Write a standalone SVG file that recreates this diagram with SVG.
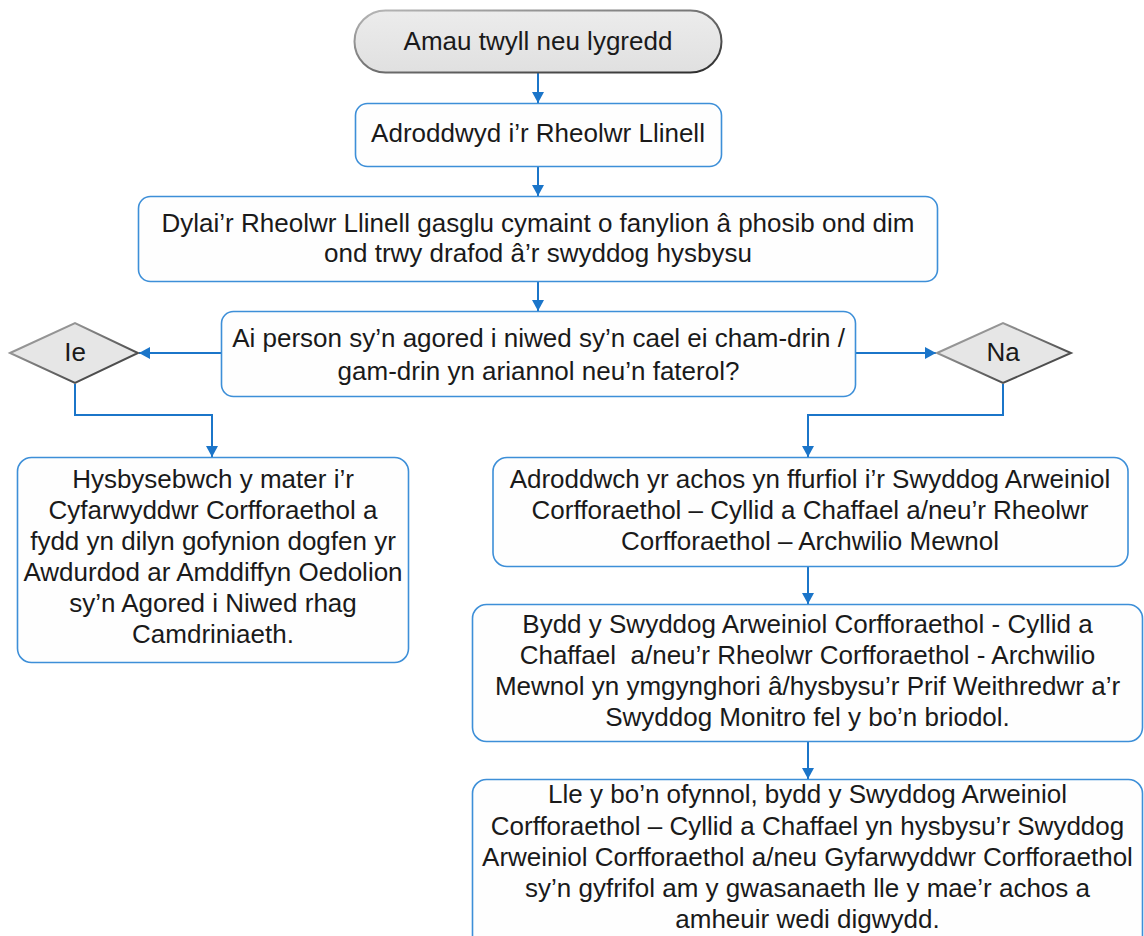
<svg xmlns="http://www.w3.org/2000/svg" width="1144" height="936" viewBox="0 0 1144 936">
  <style>
    .box { fill:#fefefe; stroke:#3d8fd8; stroke-width:1.6; }
    .conn { fill:none; stroke:#1b75c9; stroke-width:2; }
    .t { font-family:"Liberation Sans", Arial, sans-serif; font-size:26px; fill:#1a1a1a; text-anchor:middle; }
    .gray { fill:#e6e6e6; stroke:url(#grayStroke); stroke-width:2; }
  </style>
  <defs>
    <linearGradient id="grayStroke" x1="0" y1="0" x2="1" y2="1">
      <stop offset="0" stop-color="#b8b8b8"/>
      <stop offset="1" stop-color="#2a2a2a"/>
    </linearGradient>
    <linearGradient id="termFill" x1="0" y1="0" x2="0" y2="1">
      <stop offset="0" stop-color="#ececec"/>
      <stop offset="1" stop-color="#e0e0e0"/>
    </linearGradient>
    <marker id="arrow" markerUnits="userSpaceOnUse" markerWidth="12" markerHeight="12" refX="11" refY="6" orient="auto">
      <path d="M0,0 L11,6 L0,12 z" fill="#1b75c9"/>
    </marker>
  </defs>

  <g id="connectors">
    <path class="conn" d="M538,73 V103" marker-end="url(#arrow)"/>
    <path class="conn" d="M538,167 V196" marker-end="url(#arrow)"/>
    <path class="conn" d="M538,282 V311" marker-end="url(#arrow)"/>
    <path class="conn" d="M221,353 H139" marker-end="url(#arrow)"/>
    <path class="conn" d="M856,353 H936" marker-end="url(#arrow)"/>
    <path class="conn" d="M75,384 V415 H212 V457" marker-end="url(#arrow)"/>
    <path class="conn" d="M1003,384 V415 H808 V457" marker-end="url(#arrow)"/>
    <path class="conn" d="M808,567 V604" marker-end="url(#arrow)"/>
    <path class="conn" d="M808,742 V779" marker-end="url(#arrow)"/>
  </g>

  <g id="start">
    <rect x="354.5" y="10.5" width="367" height="62" rx="31" ry="31" fill="url(#termFill)" stroke="url(#grayStroke)" stroke-width="2"/>
    <text class="t" x="538" y="50">Amau twyll neu lygredd</text>
  </g>

  <g id="report-line-manager">
    <rect class="box" x="355.5" y="103.5" width="366" height="63" rx="12"/>
    <text class="t" x="538" y="142">Adroddwyd i’r Rheolwr Llinell</text>
  </g>

  <g id="gather-details">
    <rect class="box" x="138.5" y="196.5" width="799" height="85" rx="12"/>
    <text class="t" x="538" y="232">Dylai’r Rheolwr Llinell gasglu cymaint o fanylion â phosib ond dim</text>
    <text class="t" x="538" y="262">ond trwy drafod â’r swyddog hysbysu</text>
  </g>

  <g id="question">
    <rect class="box" x="221.5" y="311.5" width="634" height="85" rx="12"/>
    <text class="t" x="538.5" y="347">Ai person sy’n agored i niwed sy’n cael ei cham-drin /</text>
    <text class="t" x="538.5" y="380">gam-drin yn ariannol neu’n faterol?</text>
  </g>

  <g id="yes">
    <polygon class="gray" points="10,353 75,323 138,353 75,383"/>
    <text class="t" x="75" y="361">Ie</text>
  </g>

  <g id="no">
    <polygon class="gray" points="937,353 1003,323 1071,353 1003,383"/>
    <text class="t" x="1003" y="361">Na</text>
  </g>

  <g id="inform-director">
    <rect class="box" x="17.5" y="457.5" width="391" height="205" rx="14"/>
    <text class="t" x="213" y="488">Hysbysebwch y mater i’r</text>
    <text class="t" x="213" y="519">Cyfarwyddwr Corfforaethol a</text>
    <text class="t" x="213" y="550">fydd yn dilyn gofynion dogfen yr</text>
    <text class="t" x="213" y="581">Awdurdod ar Amddiffyn Oedolion</text>
    <text class="t" x="213" y="612">sy’n Agored i Niwed rhag</text>
    <text class="t" x="213" y="643">Camdriniaeth.</text>
  </g>

  <g id="report-formally">
    <rect class="box" x="493" y="457.5" width="635" height="109" rx="14"/>
    <text class="t" x="810" y="488">Adroddwch yr achos yn ffurfiol i’r Swyddog Arweiniol</text>
    <text class="t" x="810" y="519">Corfforaethol – Cyllid a Chaffael a/neu’r Rheolwr</text>
    <text class="t" x="810" y="550">Corfforaethol – Archwilio Mewnol</text>
  </g>

  <g id="consult">
    <rect class="box" x="472.5" y="604.5" width="670" height="137" rx="14"/>
    <text class="t" x="807.5" y="633">Bydd y Swyddog Arweiniol Corfforaethol - Cyllid a</text>
    <text class="t" x="807.5" y="664" xml:space="preserve">Chaffael  a/neu’r Rheolwr Corfforaethol - Archwilio</text>
    <text class="t" x="807.5" y="695">Mewnol yn ymgynghori â/hysbysu’r Prif Weithredwr a’r</text>
    <text class="t" x="807.5" y="726">Swyddog Monitro fel y bo’n briodol.</text>
  </g>

  <g id="inform-service">
    <rect class="box" x="472.5" y="779.5" width="670" height="180" rx="14"/>
    <text class="t" x="807.5" y="803">Lle y bo’n ofynnol, bydd y Swyddog Arweiniol</text>
    <text class="t" x="807.5" y="835">Corfforaethol – Cyllid a Chaffael yn hysbysu’r Swyddog</text>
    <text class="t" x="807.5" y="866">Arweiniol Corfforaethol a/neu Gyfarwyddwr Corfforaethol</text>
    <text class="t" x="807.5" y="897">sy’n gyfrifol am y gwasanaeth lle y mae’r achos a</text>
    <text class="t" x="807.5" y="928">amheuir wedi digwydd.</text>
  </g>
</svg>
